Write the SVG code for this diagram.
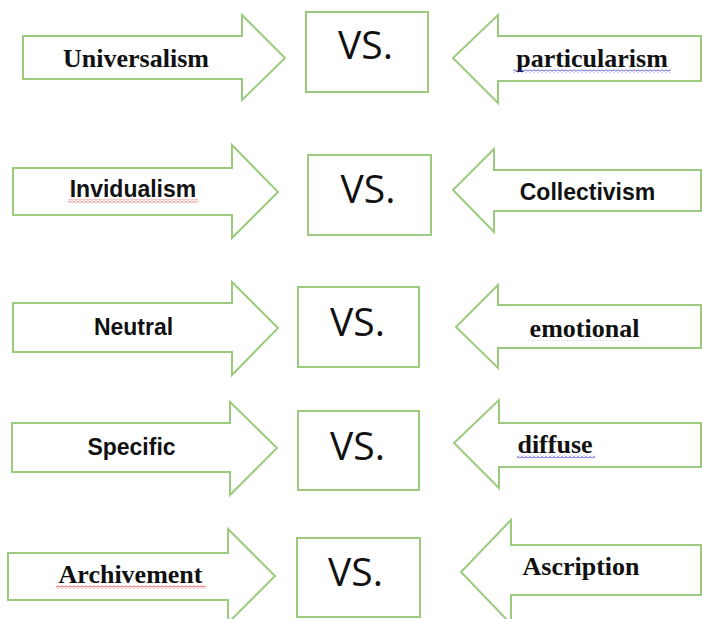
<svg xmlns="http://www.w3.org/2000/svg" width="702" height="619" viewBox="0 0 702 619">
  <style>
    .shape { fill: #ffffff; stroke: #9ccb7f; stroke-width: 2; stroke-linejoin: miter; }
    .serif { font-family: "Liberation Serif", "Times New Roman", serif; font-weight: bold; font-size: 26px; fill: #111111; text-anchor: middle; }
    .sans { font-family: "Liberation Sans", Arial, sans-serif; font-weight: bold; font-size: 23px; fill: #111111; text-anchor: middle; }
    .vs { font-family: "Open Sans", "Liberation Sans", sans-serif; font-size: 39px; fill: #111111; text-anchor: middle; }
  </style>
  <defs>
    <pattern id="wavyRed" width="4" height="3" patternUnits="userSpaceOnUse">
      <path d="M0,2.5 L2,0.5 L4,2.5" fill="none" stroke="#e02020" stroke-width="1"/>
    </pattern>
    <pattern id="wavyBlue" width="4" height="3" patternUnits="userSpaceOnUse">
      <path d="M0,2.5 L2,0.5 L4,2.5" fill="none" stroke="#3030d8" stroke-width="1"/>
    </pattern>
    <pattern id="dotBlue" width="3" height="2" patternUnits="userSpaceOnUse">
      <rect x="0" y="0" width="1.5" height="1" fill="#b0b0f0"/>
    </pattern>
  </defs>
  <rect width="702" height="619" fill="#ffffff"/>

  <g id="connectors"></g>

  <!-- Row 1 -->
  <g id="universalism">
    <polygon class="shape" points="23,36 242,36 242,15 285,58 242,100 242,79 23,79"/>
    <text class="serif" x="136" y="67">Universalism</text>
  </g>
  <g id="vs1">
    <rect class="shape" x="306" y="12" width="122" height="80"/>
    <text class="vs" x="365.5" y="59">VS.</text>
  </g>
  <g id="particularism">
    <polygon class="shape" points="701,36 498,36 498,15 453,58 498,103 498,81 701,81"/>
    <text class="serif" x="592" y="67">particularism</text>
    <rect x="513" y="69.5" width="158" height="3" fill="url(#wavyBlue)"/>
  </g>

  <!-- Row 2 -->
  <g id="invidualism">
    <polygon class="shape" points="13,168 232,168 232,145 278,192 232,238 232,215 13,215"/>
    <text class="sans" x="133" y="197">Invidualism</text>
    <rect x="68" y="199.5" width="130" height="3" fill="url(#wavyRed)"/>
  </g>
  <g id="vs2">
    <rect class="shape" x="308" y="155" width="123" height="80"/>
    <text class="vs" x="368" y="203">VS.</text>
  </g>
  <g id="collectivism">
    <polygon class="shape" points="701,170 494,170 494,149 453,190 494,232 494,211 701,211"/>
    <text class="sans" x="587.5" y="200">Collectivism</text>
  </g>

  <!-- Row 3 -->
  <g id="neutral">
    <polygon class="shape" points="13,303 232,303 232,282 278,328 232,375 232,352 13,352"/>
    <text class="sans" x="133.5" y="335">Neutral</text>
  </g>
  <g id="vs3">
    <rect class="shape" x="298" y="287" width="121" height="80"/>
    <text class="vs" x="357.5" y="336">VS.</text>
  </g>
  <g id="emotional">
    <polygon class="shape" points="701,305 498,305 498,285 456,327 498,368 498,348 701,348"/>
    <text class="serif" x="584.5" y="337">emotional</text>
    <rect x="528" y="339" width="113" height="1.5" fill="url(#dotBlue)"/>
  </g>

  <!-- Row 4 -->
  <g id="specific">
    <polygon class="shape" points="12,423 230,423 230,402 277,448 230,495 230,472 12,472"/>
    <text class="sans" x="131.5" y="455">Specific</text>
  </g>
  <g id="vs4">
    <rect class="shape" x="298" y="411" width="121" height="79"/>
    <text class="vs" x="357.5" y="460">VS.</text>
  </g>
  <g id="diffuse">
    <polygon class="shape" points="701,423 499,423 499,400 454,443 499,488 499,467 701,467"/>
    <text class="serif" x="555" y="453">diffuse</text>
    <rect x="517" y="455.5" width="78" height="3" fill="url(#wavyBlue)"/>
  </g>

  <!-- Row 5 -->
  <g id="archivement">
    <polygon class="shape" points="8,553 228,553 228,529 275,576 228,623 228,600 8,600"/>
    <text class="serif" x="130.5" y="583">Archivement</text>
    <rect x="56" y="585.5" width="150" height="3" fill="url(#wavyRed)"/>
  </g>
  <g id="vs5">
    <rect class="shape" x="297" y="538" width="123" height="79"/>
    <text class="vs" x="355.5" y="586">VS.</text>
  </g>
  <g id="ascription">
    <polygon class="shape" points="701,545 511,545 511,520 461,572 511,624 511,595 701,595"/>
    <text class="serif" x="581" y="575">Ascription</text>
  </g>
</svg>
